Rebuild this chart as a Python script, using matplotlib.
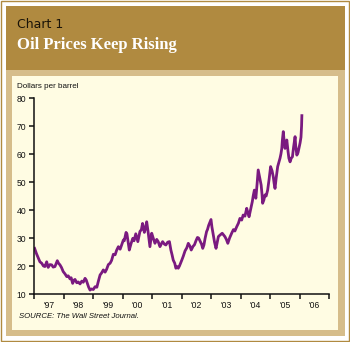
import matplotlib
matplotlib.use('Agg')
import matplotlib.pyplot as plt
from matplotlib.patches import Rectangle
from matplotlib.ticker import FixedLocator, NullFormatter

# weekly-ish oil price trace, decimal years / dollars per barrel
years = [1997.01, 1997.07, 1997.14, 1997.19, 1997.25, 1997.31, 1997.36, 1997.42,
         1997.47, 1997.53, 1997.59, 1997.64, 1997.70, 1997.78, 1997.82, 1997.87,
         1997.92, 1997.98, 1998.04, 1998.10, 1998.15, 1998.21, 1998.25, 1998.30,
         1998.35, 1998.38, 1998.44, 1998.49, 1998.55, 1998.61, 1998.66, 1998.72,
         1998.76, 1998.80, 1998.84, 1998.89, 1998.94, 1999.00, 1999.06, 1999.12,
         1999.17, 1999.23, 1999.28, 1999.34, 1999.40, 1999.45, 1999.51, 1999.57,
         1999.62, 1999.68, 1999.74, 1999.79, 1999.85, 1999.91, 1999.96, 2000.02,
         2000.05, 2000.11, 2000.14, 2000.22, 2000.28, 2000.34, 2000.38, 2000.44,
         2000.51, 2000.58, 2000.63, 2000.67, 2000.73, 2000.77, 2000.81, 2000.86,
         2000.92, 2000.98, 2001.03, 2001.09, 2001.15, 2001.20, 2001.26, 2001.31,
         2001.35, 2001.41, 2001.46, 2001.52, 2001.58, 2001.63, 2001.67, 2001.71,
         2001.76, 2001.80, 2001.84, 2001.88, 2001.92, 2001.96, 2002.00, 2002.05,
         2002.11, 2002.17, 2002.22, 2002.28, 2002.32, 2002.38, 2002.43, 2002.48,
         2002.53, 2002.57, 2002.62, 2002.67, 2002.71, 2002.75, 2002.79, 2002.84,
         2002.87, 2002.91, 2002.96, 2002.99, 2003.02, 2003.07, 2003.11, 2003.16,
         2003.20, 2003.24, 2003.29, 2003.37, 2003.42, 2003.46, 2003.51, 2003.56,
         2003.62, 2003.69, 2003.75, 2003.80, 2003.86, 2003.92, 2003.97, 2004.03,
         2004.08, 2004.14, 2004.20, 2004.24, 2004.28, 2004.33, 2004.39, 2004.42,
         2004.46, 2004.51, 2004.55, 2004.59, 2004.64, 2004.69, 2004.72, 2004.74,
         2004.78, 2004.82, 2004.86, 2004.91, 2004.96, 2005.01, 2005.06, 2005.10,
         2005.13, 2005.16, 2005.20, 2005.25, 2005.29, 2005.33, 2005.36, 2005.39,
         2005.41, 2005.44, 2005.47, 2005.50, 2005.53, 2005.56, 2005.60, 2005.63,
         2005.67, 2005.71, 2005.75, 2005.79, 2005.84, 2005.86, 2005.90, 2005.94,
         2005.97, 2006.01, 2006.04, 2006.06, 2006.07]
prices = [26.3, 24.5, 22.7, 21.5, 21.0, 20.0, 19.8, 21.5,
          19.5, 20.5, 20.4, 19.6, 19.8, 21.9, 21.0, 20.4,
          19.5, 18.0, 17.2, 16.2, 16.5, 15.4, 15.8, 13.8,
          15.0, 15.2, 14.0, 14.3, 13.6, 14.6, 14.2, 15.6,
          15.0, 13.8, 12.5, 11.4, 11.8, 11.6, 12.6, 12.4,
          14.5, 16.8, 17.5, 18.6, 17.8, 18.8, 20.5, 21.0,
          22.0, 24.2, 24.0, 25.6, 26.9, 26.0, 27.5, 29.3,
          29.0, 32.0, 31.5, 25.7, 28.0, 29.9, 29.0, 31.5,
          28.7, 32.3, 33.0, 35.2, 32.0, 33.5, 35.8, 32.0,
          26.9, 31.7, 30.0, 28.1, 29.5, 28.7, 26.9, 28.0,
          28.7, 27.8, 27.5, 28.5, 28.7, 25.7, 24.0, 22.1,
          21.0, 19.2, 19.8, 19.2, 20.0, 21.0, 22.1, 23.5,
          25.4, 26.5, 28.1, 27.0, 25.7, 27.0, 27.6, 29.0,
          30.2, 30.0, 28.9, 27.8, 26.3, 27.5, 29.9, 32.3,
          33.0, 34.5, 35.8, 36.6, 34.0, 31.0, 28.5, 26.3,
          28.5, 30.5, 31.0, 31.7, 31.0, 30.5, 29.5, 28.1,
          30.0, 31.7, 33.0, 32.5, 34.0, 35.3, 37.0, 36.4,
          38.2, 37.8, 40.6, 39.0, 37.6, 40.0, 43.0, 45.0,
          47.1, 44.2, 49.0, 54.3, 51.5, 48.9, 45.5, 42.4,
          43.5, 45.4, 45.0, 47.1, 51.0, 55.5, 54.0, 51.9,
          49.5, 47.7, 51.5, 55.5, 57.0, 58.5, 60.0, 62.0,
          65.0, 68.0, 64.5, 62.0, 63.5, 65.0, 61.0, 58.5,
          57.2, 58.5, 59.0, 62.5, 66.2, 63.0, 59.6, 60.5,
          62.0, 64.0, 66.0, 70.0, 73.7]

year_ticks = list(range(1997, 2008))
year_labels = ["'97", "'98", "'99", "'00", "'01", "'02", "'03", "'04", "'05", "'06"]
y_ticks = [10, 20, 30, 40, 50, 60, 70, 80]

GOLD = '#b08a40'
TAN = '#d6bd8b'
CREAM = '#fffce3'
PURPLE = '#7a1a80'
INK = '#111111'

W, H = 350, 342
fig = plt.figure(figsize=(W / 100, H / 100), dpi=100, facecolor='white')


def box(x0, y0, x1, y1, **kw):
    # pixel box measured from the top-left corner, kept behind the axes
    fig.add_artist(Rectangle((x0 / W, 1 - y1 / H), (x1 - x0) / W, (y1 - y0) / H,
                             transform=fig.transFigure, zorder=-5, **kw))


box(0.6, 0.6, 348.6, 340.6, facecolor='white', edgecolor=GOLD, linewidth=1.0)
box(6, 6, 345, 69.5, facecolor=GOLD, edgecolor='none')
box(6, 69.5, 345, 336, facecolor=TAN, edgecolor='none')
box(12, 75.5, 338, 329.5, facecolor=CREAM, edgecolor='none')

fig.text(17 / W, 1 - 24 / H, 'Chart 1', family='DejaVu Sans', fontsize=9,
         color='#1a1408', va='center', ha='left')
fig.text(17 / W, 1 - 45 / H, 'Oil Prices Keep Rising', family='Liberation Serif',
         fontweight='bold', fontsize=12, color='white', va='center', ha='left')

ax = fig.add_axes([34.3 / W, 1 - 294 / H, 295 / W, 196 / H])
ax.set_facecolor('none')
ax.plot(years, prices, color=PURPLE, linewidth=2.0, solid_joinstyle='round')

ax.set_xlim(1997, 2007)
ax.set_ylim(10, 80)
for s in ['top', 'right']:
    ax.spines[s].set_visible(False)
for s in ['left', 'bottom']:
    ax.spines[s].set_linewidth(1.1)
    ax.spines[s].set_color(INK)

ax.set_yticks(y_ticks)
ax.tick_params(axis='y', direction='out', length=3.8, width=1.1, pad=2,
               labelsize=6.2, colors=INK)
ax.xaxis.set_major_locator(FixedLocator(year_ticks))
ax.xaxis.set_major_formatter(NullFormatter())
ax.xaxis.set_minor_locator(FixedLocator([y + 0.5 for y in year_ticks[:-1]]))
ax.set_xticklabels(year_labels, minor=True)
ax.tick_params(axis='x', which='major', direction='out', length=3.8, width=1.1,
               color=INK)
ax.tick_params(axis='x', which='minor', length=0, pad=5, labelsize=6.2,
               labelcolor=INK)
for lab in ax.get_xticklabels(minor=True) + ax.get_yticklabels():
    lab.set_family('Liberation Sans')

fig.text(17 / W, 1 - 87 / H, 'Dollars per barrel', family='Liberation Sans',
         fontsize=5.8, color=INK, va='center', ha='left')
fig.text(19 / W, 1 - 316 / H, 'SOURCE: The Wall Street Journal.',
         family='Liberation Sans', style='italic', fontsize=5.6, color=INK,
         va='center', ha='left')

fig.savefig('out.png', dpi=100, facecolor='white')
